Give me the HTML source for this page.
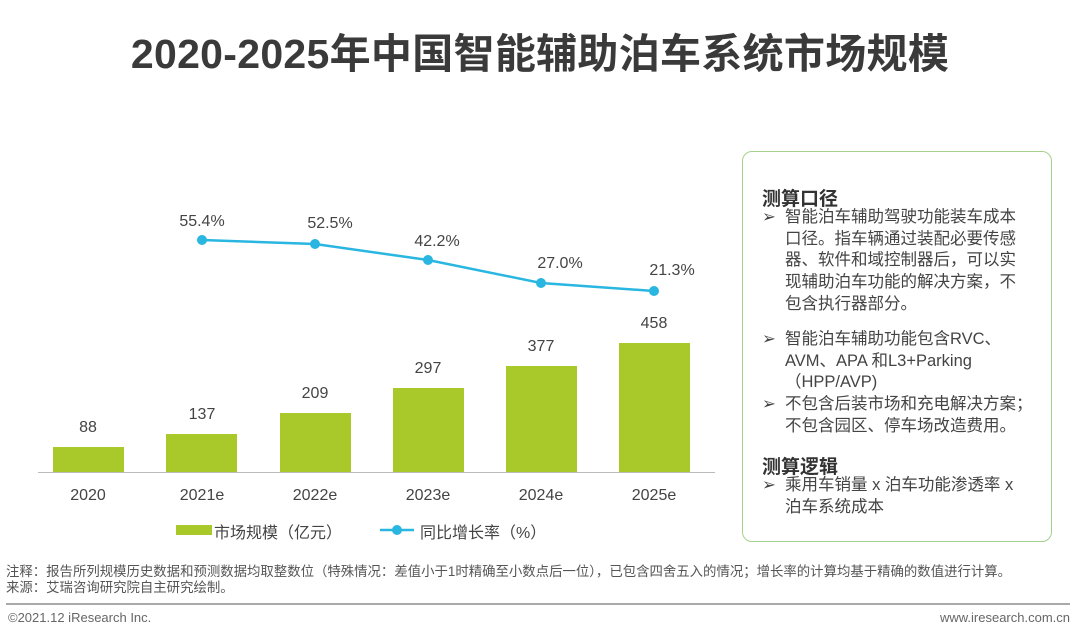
<!DOCTYPE html>
<html><head><meta charset="utf-8"><style>
body{margin:0;width:1080px;height:638px;background:#fff;font-family:"Liberation Sans","Noto Sans CJK SC",sans-serif;color:#333;position:relative;overflow:hidden}
.a{position:absolute;white-space:nowrap}
.box{position:absolute;left:742px;top:151px;width:310px;height:391px;border:1.5px solid #a5d18c;border-radius:10px;box-sizing:border-box}
.h{font-weight:bold;font-size:19px;color:#333}
.t{font-size:16.5px;line-height:21.7px;color:#444}
</style></head><body>
<div class="a" style="left:0;width:1080px;top:20px;text-align:center;font-size:41px;font-weight:bold;color:#3a3a3a;letter-spacing:0.3px">2020-2025年中国智能辅助泊车系统市场规模</div>
<svg class="a" style="left:0;top:0" width="740" height="560">
<line x1="38" y1="472.5" x2="715" y2="472.5" stroke="#bbb" stroke-width="1"/>
<g fill="#a9c92b">
<rect x="53" y="447" width="71" height="25"/>
<rect x="166" y="434" width="71" height="38"/>
<rect x="280" y="413" width="71" height="59"/>
<rect x="393" y="388" width="71" height="84"/>
<rect x="506" y="366" width="71" height="106"/>
<rect x="619" y="343" width="71" height="129"/>
</g>
<g font-size="16" fill="#444" text-anchor="middle" font-family="Liberation Sans,sans-serif">
<text x="88" y="432">88</text><text x="202" y="419">137</text><text x="315" y="398">209</text><text x="428" y="373">297</text><text x="541" y="351">377</text><text x="654" y="328">458</text>
<text x="88" y="500">2020</text><text x="202" y="500">2021e</text><text x="315" y="500">2022e</text><text x="428" y="500">2023e</text><text x="541" y="500">2024e</text><text x="654" y="500">2025e</text>
<text x="202" y="226">55.4%</text><text x="330" y="228">52.5%</text><text x="437" y="246">42.2%</text><text x="560" y="268">27.0%</text><text x="672" y="275">21.3%</text>
</g>
<polyline points="202,240 315,244 428,260 541,283 654,291" fill="none" stroke="#29b6e0" stroke-width="2.5"/>
<g fill="#29b6e0"><circle cx="202" cy="240" r="5"/><circle cx="315" cy="244" r="5"/><circle cx="428" cy="260" r="5"/><circle cx="541" cy="283" r="5"/><circle cx="654" cy="291" r="5"/></g>
<rect x="176" y="525" width="36" height="10" fill="#a9c92b"/>
<line x1="380" y1="530" x2="414" y2="530" stroke="#29b6e0" stroke-width="2.5"/><circle cx="397" cy="530" r="5" fill="#29b6e0"/>
</svg>
<div class="a" style="left:214px;top:519px;font-size:16px;color:#444">市场规模（亿元）</div>
<div class="a" style="left:420px;top:519px;font-size:16px;color:#444">同比增长率（%）</div>
<div class="box"></div>
<div class="a h" style="left:762px;top:184px">测算口径</div>
<div class="a t" style="left:762px;top:207px">➢</div>
<div class="a t" style="left:785px;top:207px">智能泊车辅助驾驶功能装车成本<br>口径。指车辆通过装配必要传感<br>器、软件和域控制器后，可以实<br>现辅助泊车功能的解决方案，不<br>包含执行器部分。</div>
<div class="a t" style="left:762px;top:329px">➢</div>
<div class="a t" style="left:785px;top:329px">智能泊车辅助功能包含RVC、<br>AVM、APA 和L3+Parking<br>（HPP/AVP)<br>不包含后装市场和充电解决方案；<br>不包含园区、停车场改造费用。</div>
<div class="a t" style="left:762px;top:394px">➢</div>
<div class="a h" style="left:762px;top:452px">测算逻辑</div>
<div class="a t" style="left:762px;top:475px">➢</div>
<div class="a t" style="left:785px;top:475px">乘用车销量 x 泊车功能渗透率 x<br>泊车系统成本</div>
<div class="a" style="left:6px;top:560px;font-size:13.4px;color:#555">注释：报告所列规模历史数据和预测数据均取整数位（特殊情况：差值小于1时精确至小数点后一位），已包含四舍五入的情况；增长率的计算均基于精确的数值进行计算。</div>
<div class="a" style="left:6px;top:576px;font-size:13.4px;color:#555">来源：艾瑞咨询研究院自主研究绘制。</div>
<div class="a" style="left:6px;top:603px;width:1064px;height:2px;background:#aaa"></div>
<div class="a" style="left:8px;top:610px;font-size:13px;color:#666">©2021.12 iResearch Inc.</div>
<div class="a" style="right:10px;top:610px;font-size:13px;color:#666">www.iresearch.com.cn</div>
</body></html>
